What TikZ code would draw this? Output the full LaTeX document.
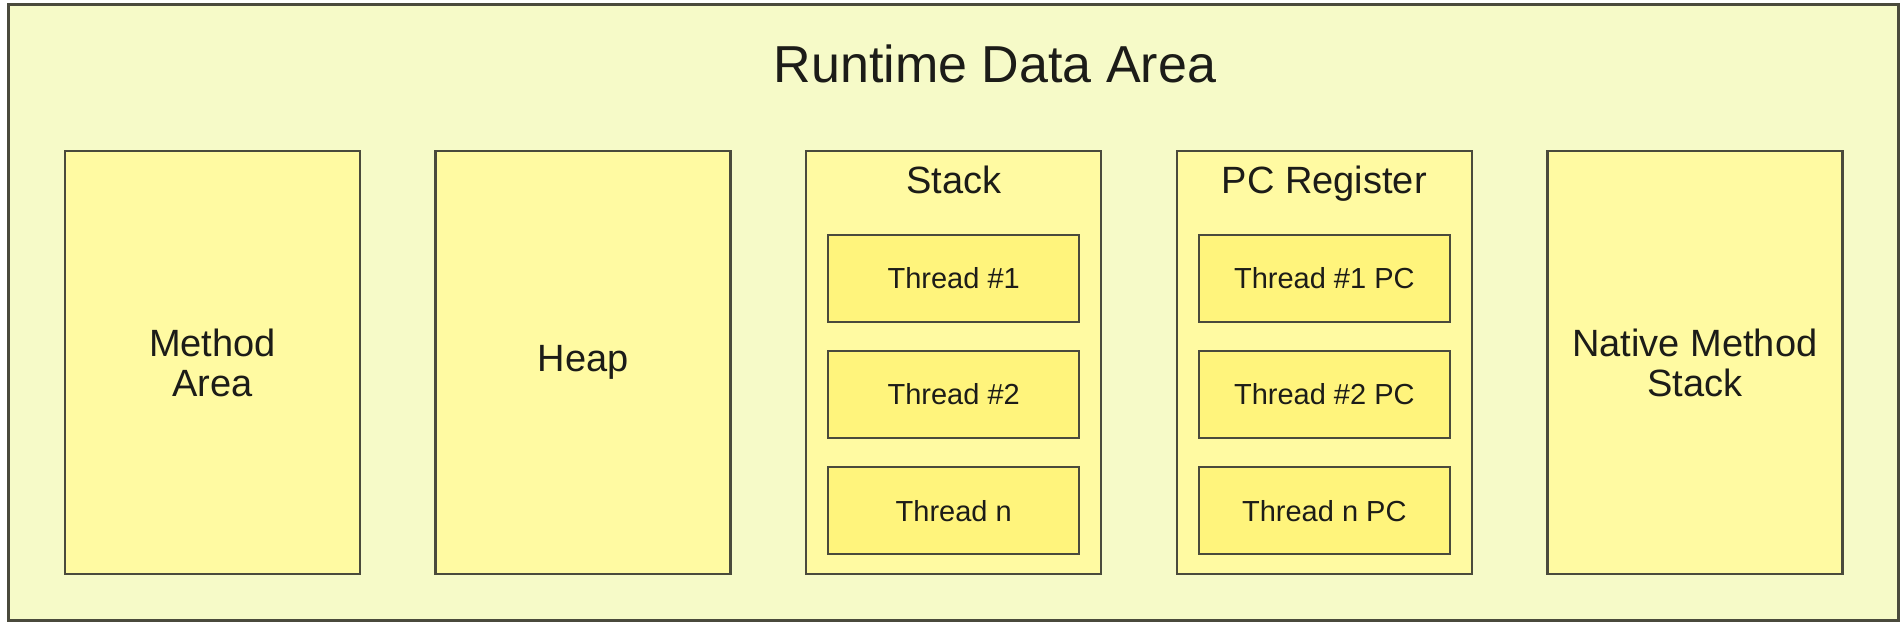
\documentclass[tikz,border=0pt]{standalone}
\usepackage{fontspec}
\setmainfont{Liberation Sans}
\usetikzlibrary{positioning}
\definecolor{areaFill}{HTML}{F6FAC8}
\definecolor{boxFill}{HTML}{FFFAA2}
\definecolor{threadFill}{HTML}{FFF47C}
\definecolor{ink}{HTML}{1C1C18}
\definecolor{edge}{HTML}{4A4A3C}
\tikzset{
  every node/.style={text=ink},
  area frame/.style={
    draw=edge,
    fill=areaFill,
    line width=1.3pt,
    inner sep=0pt
  },
  region box/.style={
    draw=edge,
    fill=boxFill,
    line width=1.2pt,
    minimum width=147.5pt,
    minimum height=211.5pt,
    inner sep=0pt,
    align=center,
    font=\fontsize{19}{20}\selectfont
  },
  thread box/.style={
    draw=edge,
    fill=threadFill,
    line width=1.1pt,
    minimum width=125.5pt,
    minimum height=43.5pt,
    inner sep=0pt,
    font=\fontsize{14.5}{17}\selectfont
  },
  region title/.style={anchor=base,font=\fontsize{19}{20}\selectfont},
  area title/.style={anchor=base,font=\fontsize{26}{30}\selectfont},
}

\begin{document}
\begin{tikzpicture}[node distance=36.6pt]
  \path[fill=white,use as bounding box] (0,0) rectangle (951pt,315pt);

  \node[area frame,anchor=south west,minimum width=945pt,minimum height=308pt]
    (area) at (3.5pt,4pt) {};
  \node[area title] (title) at (497.5pt,273.5pt) {Runtime Data Area};

  % the five regions
  \node[region box] (method) at (106.25pt,133.75pt) {Method\\Area};
  \node[region box,right=of method] (heap) {Heap};
  \node[region box,right=of heap] (stack) {};
  \node[region box,right=of stack] (pc) {};
  \node[region box,right=of pc] (native) {Native Method\\Stack};

  % stack frames per thread
  \node[region title] (stackTitle) at ([yshift=-22pt]stack.north) {Stack};
  \node[thread box,below=42pt of stack.north] (stackT1) {Thread \#1};
  \node[thread box,below=13.5pt of stackT1] (stackT2) {Thread \#2};
  \node[thread box,below=13.5pt of stackT2] (stackTn) {Thread n};

  % program counters per thread
  \node[region title] (pcTitle) at ([yshift=-22pt]pc.north) {PC Register};
  \node[thread box,below=42pt of pc.north] (pcT1) {Thread \#1 PC};
  \node[thread box,below=13.5pt of pcT1] (pcT2) {Thread \#2 PC};
  \node[thread box,below=13.5pt of pcT2] (pcTn) {Thread n PC};

\end{tikzpicture}
\end{document}
